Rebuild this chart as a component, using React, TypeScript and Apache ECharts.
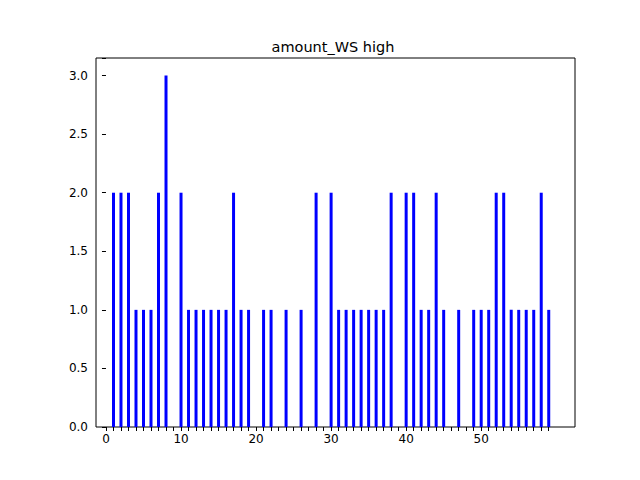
import React, { useEffect, useRef } from "react";
import * as echarts from "echarts";

const positions = Array.from({ length: 60 }, (_, i) => i);
const counts = [0,2,2,2,1,1,1,2,3,0,2,1,1,1,1,1,1,2,1,1,0,1,1,0,1,0,1,0,2,0,2,1,1,1,1,1,1,1,2,0,2,2,1,1,2,1,0,1,0,1,1,1,2,2,1,1,1,1,2,1];
const xLabels = [0, 10, 20, 30, 40, 50];

export default function App() {
  const ref = useRef<HTMLDivElement>(null);
  useEffect(() => {
    const chart = echarts.init(ref.current!, null, { renderer: "svg" });
    const font = "DejaVu Sans";
    chart.setOption({
      animation: false,
      title: { text: "amount_WS high", left: 328, textAlign: "center", top: 34, textStyle: { fontFamily: font, fontSize: 14.5, fontWeight: "normal", color: "#000" } },
      grid: { left: 96, right: 65, top: 58, bottom: 53, show: true, borderColor: "#000", borderWidth: 1 },
      xAxis: {
        type: "value", min: -1.33, max: 62.5,
        splitLine: { show: false },
        axisLine: { show: false },
        axisTick: { show: true, length: 4, customValues: positions, lineStyle: { color: "#000" } },
        axisLabel: { customValues: xLabels, color: "#000", fontFamily: font, fontSize: 12, margin: 6 },
      },
      yAxis: {
        type: "value", min: 0, max: 3.15, interval: 0.5,
        splitLine: { show: false },
        axisLine: { show: false },
        axisTick: { show: true, length: 4, lineStyle: { color: "#000" } },
        axisLabel: { color: "#000", fontFamily: font, fontSize: 12, formatter: (v: number) => (v > 3.1 ? "" : v.toFixed(1)) },
      },
      series: [{
        type: "bar", barWidth: 3, itemStyle: { color: "#0000ff" },
        data: positions.map((p, i) => [p, counts[i]]),
      }],
    });
    return () => chart.dispose();
  }, []);
  return <div ref={ref} style={{ width: 640, height: 480, margin: -8 }} />;
}
